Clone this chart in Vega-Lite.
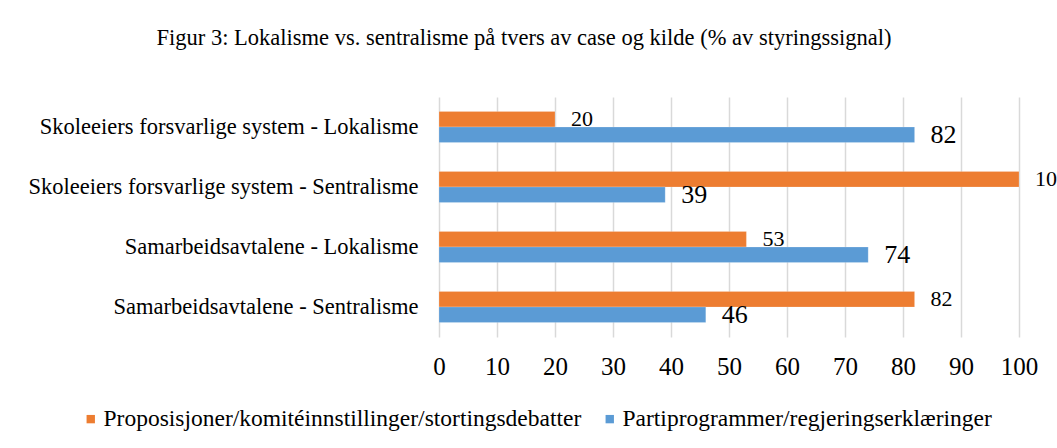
{
  "$schema": "https://vega.github.io/schema/vega-lite/v6.json",
  "width": 580,
  "height": 240,
  "autosize": {"type": "none"},
  "padding": {"left": 439, "top": 97, "right": 38, "bottom": 111},
  "background": "white",
  "title": {
    "text": "Figur 3: Lokalisme vs. sentralisme på tvers av case og kilde (% av styringssignal)",
    "font": "Liberation Serif",
    "fontSize": 22.5,
    "fontWeight": "normal",
    "color": "#000000",
    "anchor": "middle",
    "dx": -205,
    "offset": 48
  },
  "data": {
    "values": [
      {"kategori": "Skoleeiers forsvarlige system - Lokalisme", "kilde": "Proposisjoner/komitéinnstillinger/stortingsdebatter", "verdi": 20},
      {"kategori": "Skoleeiers forsvarlige system - Lokalisme", "kilde": "Partiprogrammer/regjeringserklæringer", "verdi": 82},
      {"kategori": "Skoleeiers forsvarlige system - Sentralisme", "kilde": "Proposisjoner/komitéinnstillinger/stortingsdebatter", "verdi": 100},
      {"kategori": "Skoleeiers forsvarlige system - Sentralisme", "kilde": "Partiprogrammer/regjeringserklæringer", "verdi": 39},
      {"kategori": "Samarbeidsavtalene - Lokalisme", "kilde": "Proposisjoner/komitéinnstillinger/stortingsdebatter", "verdi": 53},
      {"kategori": "Samarbeidsavtalene - Lokalisme", "kilde": "Partiprogrammer/regjeringserklæringer", "verdi": 74},
      {"kategori": "Samarbeidsavtalene - Sentralisme", "kilde": "Proposisjoner/komitéinnstillinger/stortingsdebatter", "verdi": 82},
      {"kategori": "Samarbeidsavtalene - Sentralisme", "kilde": "Partiprogrammer/regjeringserklæringer", "verdi": 46}
    ]
  },
  "encoding": {
    "y": {
      "field": "kategori",
      "type": "nominal",
      "sort": null,
      "title": null,
      "scale": {"paddingInner": 0.48, "paddingOuter": 0.24},
      "axis": {
        "domain": false,
        "ticks": false,
        "grid": false,
        "labelFont": "Liberation Serif",
        "labelFontSize": 22.5,
        "labelColor": "#000000",
        "labelPadding": 21,
        "labelLimit": 0
      }
    },
    "yOffset": {
      "field": "kilde",
      "type": "nominal",
      "sort": ["Proposisjoner/komitéinnstillinger/stortingsdebatter", "Partiprogrammer/regjeringserklæringer"],
      "scale": {"paddingInner": 0, "paddingOuter": 0}
    },
    "x": {
      "field": "verdi",
      "type": "quantitative",
      "title": null,
      "scale": {"domain": [0, 100], "nice": false},
      "axis": {
        "values": [0, 10, 20, 30, 40, 50, 60, 70, 80, 90, 100],
        "domain": false,
        "ticks": false,
        "grid": true,
        "gridColor": "#d9d9d9",
        "gridWidth": 1.5,
        "labelFont": "Liberation Serif",
        "labelFontSize": 25,
        "labelColor": "#000000",
        "labelPadding": 17,
        "labelFlush": false
      }
    }
  },
  "layer": [
    {
      "mark": {"type": "bar", "stroke": "#ffffff", "strokeOpacity": 0.4, "strokeWidth": 0.5},
      "encoding": {
        "color": {
          "field": "kilde",
          "type": "nominal",
          "scale": {
            "domain": ["Proposisjoner/komitéinnstillinger/stortingsdebatter", "Partiprogrammer/regjeringserklæringer"],
            "range": ["#ED7D31", "#5B9BD5"]
          },
          "legend": {
            "title": null,
            "orient": "none",
            "direction": "horizontal",
            "legendX": -360,
            "legendY": 310,
            "symbolType": "square",
            "symbolSize": 70,
            "symbolStrokeWidth": 0,
            "labelFont": "Liberation Serif",
            "labelFontSize": 23.5,
            "labelColor": "#000000",
            "labelLimit": 0,
            "labelOffset": 1,
            "columnPadding": 16
          }
        }
      }
    },
    {
      "transform": [{"filter": "datum.kilde === 'Proposisjoner/komitéinnstillinger/stortingsdebatter'"}],
      "mark": {"type": "text", "align": "left", "baseline": "middle", "dx": 16, "font": "Liberation Serif", "fontSize": 22, "color": "#000000"},
      "encoding": {"text": {"field": "verdi", "type": "quantitative"}}
    },
    {
      "transform": [{"filter": "datum.kilde === 'Partiprogrammer/regjeringserklæringer'"}],
      "mark": {"type": "text", "align": "left", "baseline": "middle", "dx": 16, "font": "Liberation Serif", "fontSize": 26, "color": "#000000"},
      "encoding": {"text": {"field": "verdi", "type": "quantitative"}}
    }
  ],
  "config": {
    "view": {"stroke": null}
  }
}
